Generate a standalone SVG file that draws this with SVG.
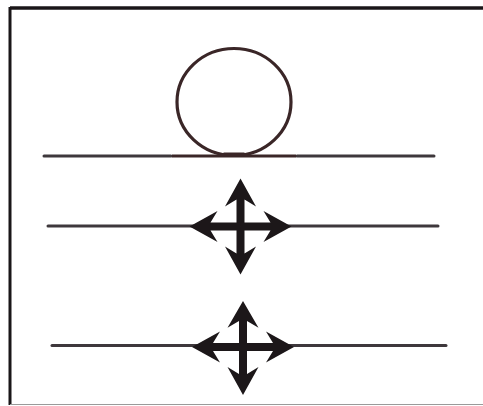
<svg xmlns="http://www.w3.org/2000/svg" width="483" height="406" viewBox="0 0 483 406">
<style>
.frame{stroke:#1a1618;fill:none}
.line{stroke:#3e383c;stroke-width:3;stroke-linecap:round;fill:none}
.brown{stroke:#3a2627;stroke-width:3.2;fill:none}
.arr{fill:#1c1719}
</style>
<defs>
<path id="armH" d="M-4,0 V-30 L-15.5,-23 L0,-51 L15.5,-23 L4,-30 V0 Z"/>
<path id="armV" d="M-4,0 V-27 L-15.5,-20 L0,-48 L15.5,-20 L4,-27 V0 Z"/>
</defs>
<rect width="483" height="406" fill="#fff"/>
<g id="frame">
<line class="frame" x1="10" y1="8" x2="483" y2="8" stroke-width="3.5"/>
<line class="frame" x1="10" y1="7" x2="10" y2="405" stroke-width="3"/>
<line x1="10" y1="404.5" x2="483" y2="404.5" stroke="#9a9a9a" stroke-width="1"/>
</g>
<g id="surfaces">
<line class="line" x1="44" y1="156" x2="171" y2="156"/>
<line class="line" x1="297" y1="156" x2="434" y2="156"/>
<line class="line" x1="48" y1="226" x2="438" y2="226"/>
<line class="line" x1="52" y1="345.5" x2="446" y2="345.5"/>
</g>
<g id="droplet">
<line class="brown" x1="172" y1="156" x2="296" y2="156"/>
<ellipse class="brown" cx="234" cy="102" rx="57" ry="53.5"/>
<path d="M210,156 Q220,155 224,152.5 L244,152.5 Q248,155 258,156 Z" fill="#3a2627"/>
</g>
<g id="cross1" transform="translate(240.5,226.5)">
<use href="#armV" class="arr"/>
<use href="#armV" class="arr" transform="rotate(180)"/>
<use href="#armH" class="arr" transform="rotate(90)"/>
<use href="#armH" class="arr" transform="rotate(-90)"/>
</g>
<g id="cross2" transform="translate(243,347)">
<use href="#armV" class="arr" transform="scale(1,0.96)"/>
<use href="#armV" class="arr" transform="rotate(180)"/>
<use href="#armH" class="arr" transform="rotate(90)"/>
<use href="#armH" class="arr" transform="rotate(-90)"/>
</g>
</svg>
